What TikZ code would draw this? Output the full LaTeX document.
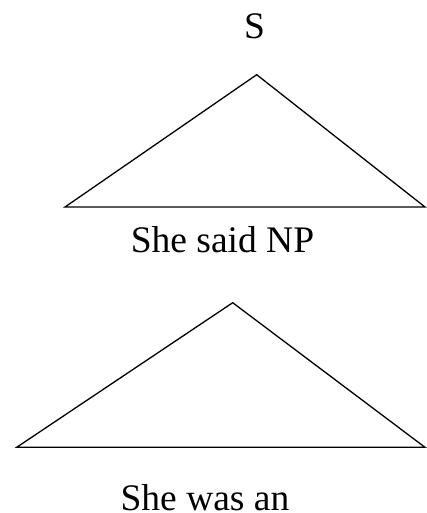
\documentclass[tikz,border=0pt]{standalone}
\usepackage{fontspec}
\setmainfont{Liberation Serif}
\begin{document}
\begin{tikzpicture}[x=1pt,y=-1pt,
  lbl/.style={anchor=base,inner sep=0pt,font=\fontsize{37.5}{40}\selectfont},
  tri/.style={draw=black,line width=1.3pt,line join=miter}]
\useasboundingbox (0,0) rectangle (427,513);
\node[lbl] (s) at (254.5,38.3) {S};
\coordinate (a1) at (256.7,74.7);
\coordinate (l1) at (65,207);
\coordinate (r1) at (425,207);
\draw[tri] (a1) -- (l1) -- (r1) -- cycle;
\node[lbl] (t1) at (222.5,252.3) {She said NP};
\coordinate (a2) at (232.7,302.7);
\coordinate (l2) at (16.7,447.3);
\coordinate (r2) at (425,447.3);
\draw[tri] (a2) -- (l2) -- (r2) -- cycle;
\node[lbl] (t2) at (205,510) {She was an};
\end{tikzpicture}
\end{document}
